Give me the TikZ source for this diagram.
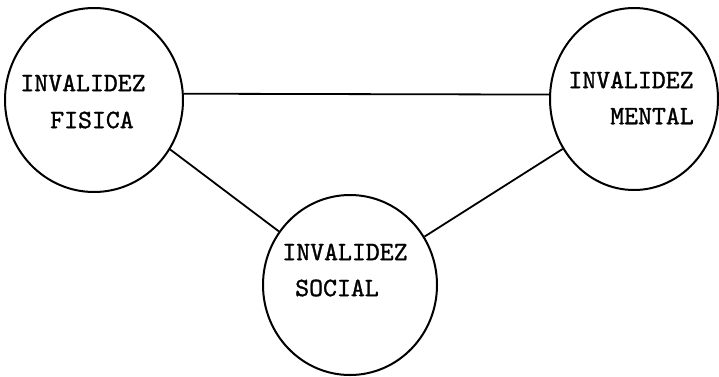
\documentclass[tikz,border=0pt]{standalone}
\usepackage{fontspec}
\newfontfamily\typew{lmmono10-regular}[Extension=.otf, FakeBold=1.2]
\usetikzlibrary{shapes.geometric}
\begin{document}
\begin{tikzpicture}[x=1pt,y=1pt,
  bubble/.style={draw, ellipse, line width=2pt, inner sep=0pt},
  label/.style={font=\typew\fontsize{26.5}{29}\selectfont, inner sep=0pt},
  link/.style={line width=1.8pt}]
\useasboundingbox (0,0) rectangle (719,376);
\node[bubble, minimum width=178pt, minimum height=184pt] (L) at (94,276) {};
\node[bubble, minimum width=168pt, minimum height=182pt] (R) at (634,277) {};
\node[bubble, minimum width=174pt, minimum height=180pt] (B) at (350,91) {};
\node[label] (l1) at (83,293) {INVALIDEZ};
\node[label] (l2) at (92,256) {FISICA};
\node[label] (r1) at (631,296) {INVALIDEZ};
\node[label] (r2) at (652,260) {MENTAL};
\node[label] (b1) at (345,124) {INVALIDEZ};
\node[label] (b2) at (337,88) {SOCIAL};
\draw[link] (L.4) -- (R.177);
\draw[link] (L.-33) -- (B.143);
\draw[link] (B.33) -- (R.-145);
\end{tikzpicture}
\end{document}
